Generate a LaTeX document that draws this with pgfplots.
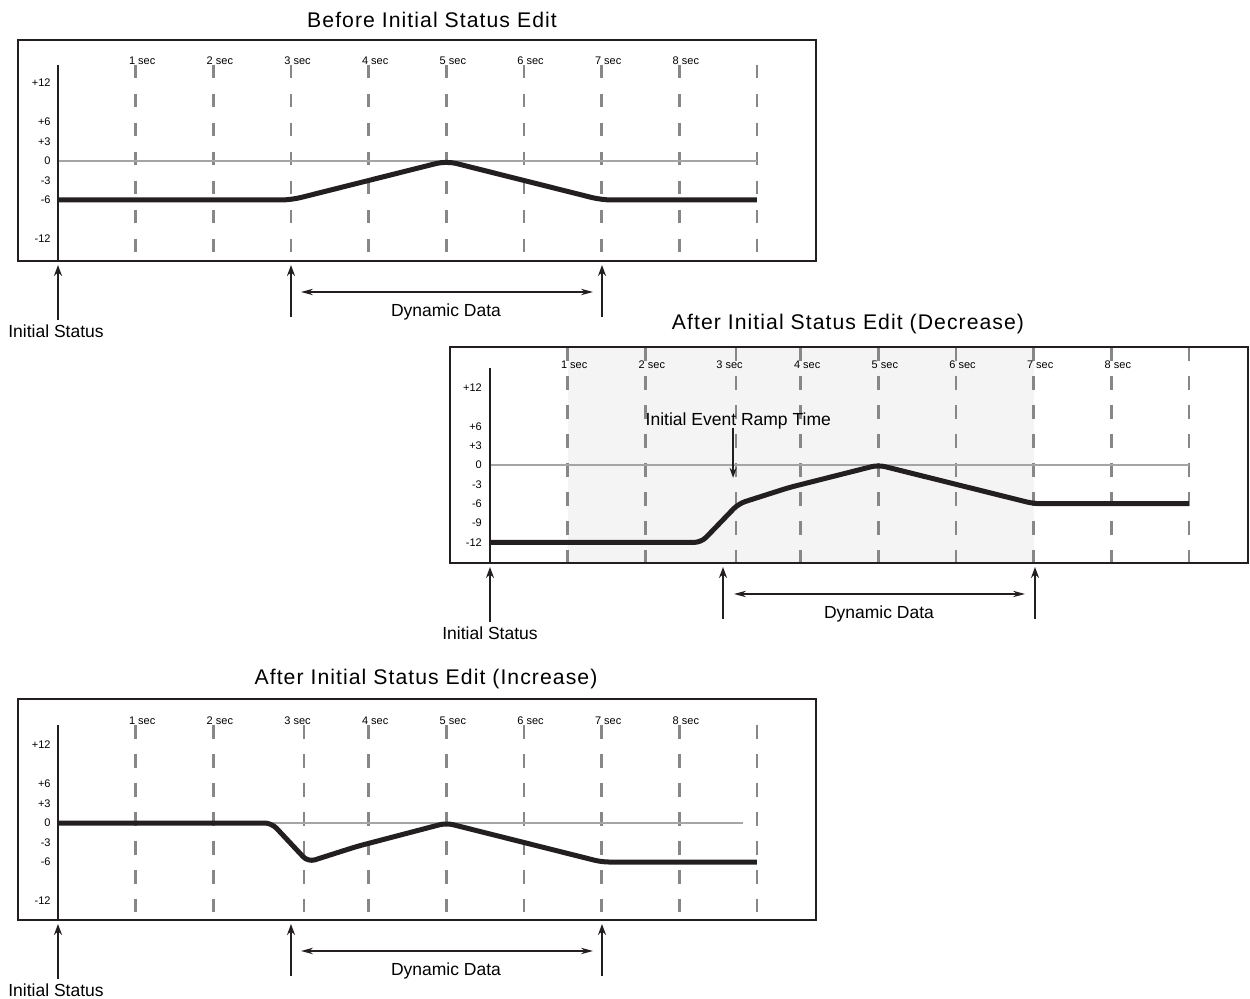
\documentclass[border=0pt]{standalone}
\usepackage{fontspec}
\setmainfont{Liberation Sans}
\newfontfamily\titfam[LetterSpace=5]{Liberation Sans}
\usepackage{pgfplots}
\pgfplotsset{compat=1.18}
\usetikzlibrary{arrows.meta}
\definecolor{ink}{RGB}{35,31,32}
\definecolor{dashgray}{RGB}{135,135,135}
\definecolor{zerogray}{RGB}{165,165,165}
\definecolor{shade}{RGB}{244,244,244}
\newcommand{\secfont}{\fontsize{5.5pt}{6pt}\selectfont}
\newcommand{\labfont}{\fontsize{8.75pt}{10pt}\selectfont}
\newcommand{\titfont}{\titfam\fontsize{10.6pt}{12pt}\selectfont}
\pgfplotsset{
  panel/.style={scale only axis, anchor=south west, xtick=\empty, ytick=\empty,
    axis on top, clip=false, axis line style={line width=1.25pt, ink}},
  grdA/.style={dashgray, line width=1.2pt, dash pattern=on 6.5pt off 8pt},
  grdB/.style={dashgray, line width=1.2pt, dash pattern=on 7pt off 7.5pt},
  zeroline/.style={zerogray, line width=1pt},
  yaxisline/.style={ink, line width=1pt},
  curve/.style={ink, line width=2.5pt, rounded corners=5pt, line join=round},
}
\tikzset{
  sl/.style={anchor=west, font=\secfont, inner sep=0pt},
  yl/.style={anchor=east, font=\secfont, inner sep=0pt},
  uparrow/.style={ink, line width=1.1pt, -{Stealth[length=5.5pt,width=4pt]}},
  dblarrow/.style={ink, line width=0.75pt, {Stealth[length=6pt,width=3.2pt]}-{Stealth[length=6pt,width=3.2pt]}},
}
\begin{document}
\begin{tikzpicture}
\path[use as bounding box] (0pt,0pt) rectangle (625pt,499.5pt);

% ---------- Panel 1 ----------
\begin{axis}[panel, at={(9pt,369pt)}, width=399pt, height=110.5pt,
  xmin=-0.515, xmax=9.760, ymin=-15.385, ymax=18.615]
\pgfplotsinvokeforeach{1,2,3,4,5,6,7,8,9}{\addplot[grdA] coordinates {(#1,14.77) (#1,-14.0)};}
\addplot[zeroline] coordinates {(0,0) (9,0)};
\addplot[yaxisline] coordinates {(0,14.77) (0,-15.385)};
\addplot[curve] coordinates {(0,-6) (3,-6) (5,0) (7,-6) (9,-6)};
\node[sl] at (axis cs:0.91,15.4) {1 sec};
\node[sl] at (axis cs:1.91,15.4) {2 sec};
\node[sl] at (axis cs:2.91,15.4) {3 sec};
\node[sl] at (axis cs:3.91,15.4) {4 sec};
\node[sl] at (axis cs:4.91,15.4) {5 sec};
\node[sl] at (axis cs:5.91,15.4) {6 sec};
\node[sl] at (axis cs:6.91,15.4) {7 sec};
\node[sl] at (axis cs:7.91,15.4) {8 sec};
\node[yl] at (axis cs:-0.09,12) {+12};
\node[yl] at (axis cs:-0.09,6) {+6};
\node[yl] at (axis cs:-0.09,3) {+3};
\node[yl] at (axis cs:-0.09,0) {0};
\node[yl] at (axis cs:-0.09,-3) {-3};
\node[yl] at (axis cs:-0.09,-6) {-6};
\node[yl] at (axis cs:-0.09,-12) {-12};
\end{axis}

% ---------- Panel 2 ----------
\begin{axis}[panel, at={(225pt,218pt)}, width=399pt, height=108pt,
  xmin=-0.515, xmax=9.760, ymin=-15.19, ymax=18.29]
\addplot[fill=shade, draw=none] coordinates {(1,-15.19) (7,-15.19) (7,18.29) (1,18.29)} -- cycle;
\pgfplotsinvokeforeach{1,2,3.17,4,5,6,7,8,9}{\addplot[grdB] coordinates {(#1,18.29) (#1,-15.19)};}
\addplot[zeroline] coordinates {(0,0) (9,0)};
\addplot[yaxisline] coordinates {(0,15.04) (0,-15.19)};
\addplot[curve, rounded corners=3.5pt] coordinates {(0,-12) (2.72,-12) (3.2,-6) (3.85,-3.5) (5,0) (7,-6) (9,-6)};
\node[sl] at (axis cs:0.91,15.5) {1 sec};
\node[sl] at (axis cs:1.91,15.5) {2 sec};
\node[sl] at (axis cs:2.91,15.5) {3 sec};
\node[sl] at (axis cs:3.91,15.5) {4 sec};
\node[sl] at (axis cs:4.91,15.5) {5 sec};
\node[sl] at (axis cs:5.91,15.5) {6 sec};
\node[sl] at (axis cs:6.91,15.5) {7 sec};
\node[sl] at (axis cs:7.91,15.5) {8 sec};
\node[yl] at (axis cs:-0.1,12) {+12};
\node[yl] at (axis cs:-0.1,6) {+6};
\node[yl] at (axis cs:-0.1,3) {+3};
\node[yl] at (axis cs:-0.1,0) {0};
\node[yl] at (axis cs:-0.1,-3) {-3};
\node[yl] at (axis cs:-0.1,-6) {-6};
\node[yl] at (axis cs:-0.1,-9) {-9};
\node[yl] at (axis cs:-0.1,-12) {-12};
\node[anchor=west, font=\labfont, inner sep=0pt] at (axis cs:2.0,6.8) {Initial Event Ramp Time};
\draw[ink, line width=0.9pt, -{Stealth[length=5pt,width=3.5pt]}] (axis cs:3.13,5.74) -- (axis cs:3.13,-2.0);
\end{axis}

% ---------- Panel 3 ----------
\begin{axis}[panel, at={(9pt,39.5pt)}, width=399pt, height=110.5pt,
  xmin=-0.515, xmax=9.760, ymin=-14.92, ymax=19.08]
\pgfplotsinvokeforeach{1,2,3.17,4,5,6,7,8,9}{\addplot[grdB] coordinates {(#1,15.08) (#1,-13.7)};}
\addplot[zeroline] coordinates {(0,0) (8.82,0)};
\addplot[yaxisline] coordinates {(0,15.08) (0,-14.92)};
\addplot[curve, rounded corners=3.5pt] coordinates {(0,0) (2.75,0) (3.22,-6) (3.85,-3.6) (5,0) (7,-6) (9,-6)};
\node[sl] at (axis cs:0.91,15.7) {1 sec};
\node[sl] at (axis cs:1.91,15.7) {2 sec};
\node[sl] at (axis cs:2.91,15.7) {3 sec};
\node[sl] at (axis cs:3.91,15.7) {4 sec};
\node[sl] at (axis cs:4.91,15.7) {5 sec};
\node[sl] at (axis cs:5.91,15.7) {6 sec};
\node[sl] at (axis cs:6.91,15.7) {7 sec};
\node[sl] at (axis cs:7.91,15.7) {8 sec};
\node[yl] at (axis cs:-0.09,12) {+12};
\node[yl] at (axis cs:-0.09,6) {+6};
\node[yl] at (axis cs:-0.09,3) {+3};
\node[yl] at (axis cs:-0.09,0) {0};
\node[yl] at (axis cs:-0.09,-3) {-3};
\node[yl] at (axis cs:-0.09,-6) {-6};
\node[yl] at (axis cs:-0.09,-12) {-12};
\end{axis}

% ---------- annotations (pixel coordinates) ----------
\begin{scope}[shift={(0pt,499.5pt)}, x=0.5pt, y=-0.5pt]
\node[font=\titfont] at (432,20) {Before Initial Status Edit};
\node[font=\titfont] at (848,324) {After Initial Status Edit (Decrease)};
\node[font=\titfont] at (426,679) {After Initial Status Edit (Increase)};
% panel 1
\draw[uparrow] (58,320) -- (58,265);
\draw[uparrow] (291,317) -- (291,265);
\draw[uparrow] (602,317) -- (602,265);
\draw[dblarrow] (301,292) -- (593,292);
\node[font=\labfont] at (446,312) {Dynamic Data};
\node[font=\labfont] at (56,331) {Initial Status};
% panel 2
\draw[uparrow] (490,622) -- (490,567);
\draw[uparrow] (723,619) -- (723,567);
\draw[uparrow] (1035,619) -- (1035,567);
\draw[dblarrow] (734,594) -- (1025,594);
\node[font=\labfont] at (879,614) {Dynamic Data};
\node[font=\labfont] at (490,633) {Initial Status};
% panel 3
\draw[uparrow] (58,979) -- (58,924);
\draw[uparrow] (291,976) -- (291,924);
\draw[uparrow] (602,976) -- (602,924);
\draw[dblarrow] (301,951) -- (593,951);
\node[font=\labfont] at (446,971) {Dynamic Data};
\node[font=\labfont] at (56,990) {Initial Status};
\end{scope}
\end{tikzpicture}
\end{document}
